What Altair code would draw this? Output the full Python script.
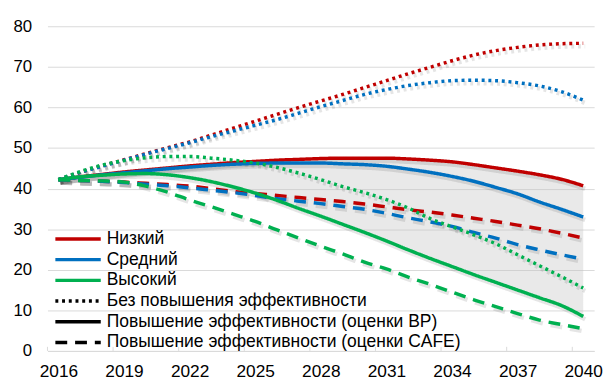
import altair as alt
import pandas as pd

years = list(range(2016, 2041))

scenarios = ["Низкий", "Средний", "Высокий"]
types = [
    "Без повышения эффективности",
    "Повышение эффективности (оценки BP)",
    "Повышение эффективности (оценки CAFE)",
]
colors = ["#c00000", "#0070c0", "#00b050"]

# Низкий
low_none = [42.2, 44.0, 45.6, 47.1, 48.6, 50.1, 51.5, 53.2, 54.9, 56.6, 58.3, 60.0, 61.6,
            63.2, 64.9, 66.6, 68.3, 69.9, 71.5, 72.9, 74.0, 74.8, 75.4, 75.7, 75.8]
low_bp = [42.2, 42.9, 43.5, 44.1, 44.6, 45.1, 45.6, 46.0, 46.4, 46.7, 47.0, 47.2, 47.4,
          47.5, 47.5, 47.5, 47.3, 47.0, 46.6, 45.9, 45.1, 44.3, 43.4, 42.3, 40.7]
low_cafe = [42.2, 42.0, 41.8, 41.6, 41.3, 41.0, 40.6, 40.0, 39.3, 38.8, 38.3, 37.8, 37.3,
            36.8, 36.2, 35.5, 34.8, 34.2, 33.5, 32.7, 31.9, 31.0, 30.1, 29.0, 27.8]
# Средний
mid_none = [42.2, 44.0, 45.5, 47.0, 48.5, 49.9, 51.3, 52.8, 54.2, 55.6, 57.0, 58.6, 60.2,
            61.7, 63.2, 64.4, 65.4, 66.1, 66.6, 66.7, 66.6, 66.1, 65.3, 63.9, 61.8]
mid_bp = [42.2, 42.8, 43.4, 43.9, 44.4, 44.9, 45.3, 45.7, 46.0, 46.2, 46.3, 46.3, 46.3,
          46.1, 45.9, 45.5, 44.8, 44.0, 43.0, 41.8, 40.3, 38.7, 36.7, 34.9, 33.0]
mid_cafe = [42.2, 42.0, 41.8, 41.5, 41.1, 40.7, 40.2, 39.6, 39.0, 38.3, 37.5, 36.9, 36.3,
            35.6, 34.9, 33.9, 32.8, 31.8, 30.7, 29.2, 27.8, 26.2, 24.9, 23.7, 22.6]
# Высокий
high_none = [42.2, 44.2, 45.8, 46.9, 47.6, 47.9, 47.9, 47.5, 47.0, 46.3, 45.2, 43.8, 42.2,
             40.5, 39.0, 37.3, 35.2, 32.6, 30.6, 28.6, 26.4, 23.7, 21.0, 18.3, 15.5]
high_bp = [42.2, 42.9, 43.3, 43.6, 43.7, 43.4, 42.7, 41.7, 40.4, 38.9, 37.1, 35.1, 33.2,
           31.2, 29.2, 27.1, 24.9, 22.8, 20.8, 18.8, 16.9, 15.0, 13.1, 11.2, 8.5]
high_cafe = [42.2, 42.0, 41.9, 41.6, 40.6, 39.1, 37.2, 35.5, 33.7, 31.9, 29.8, 27.8, 25.8,
             23.9, 21.9, 20.2, 18.2, 16.4, 14.5, 12.6, 10.9, 9.2, 7.6, 6.5, 5.5]

x_label_years = list(range(2016, 2041, 3))
y_ticks = list(range(0, 81, 10))
x_tick_marks = [2015.5 + 3 * k for k in range(9)]

series = {
    ("Низкий", types[0]): low_none, ("Низкий", types[1]): low_bp, ("Низкий", types[2]): low_cafe,
    ("Средний", types[0]): mid_none, ("Средний", types[1]): mid_bp, ("Средний", types[2]): mid_cafe,
    ("Высокий", types[0]): high_none, ("Высокий", types[1]): high_bp, ("Высокий", types[2]): high_cafe,
}
rows = []
for (scen, typ), vals in series.items():
    for yr, v in zip(years, vals):
        rows.append({"year": yr, "value": v, "scen": scen, "type": typ, "key": scen + typ})
df = pd.DataFrame(rows)

band = pd.DataFrame({"year": years, "top": low_bp, "bottom": high_bp})
ticks_df = pd.DataFrame({"t": x_tick_marks})

FONT = "Liberation Sans"

x_enc = alt.X("year:Q",
              scale=alt.Scale(domain=[2015.5, 2040.5], nice=False, zero=False),
              axis=alt.Axis(values=x_label_years, format="d", ticks=False, grid=False,
                            domainColor="#d9d9d9", domainWidth=1, labelFontSize=17.5,
                            labelPadding=12, labelColor="#000", title=None,
                            labelFlush=False, labelOverlap=False))
y_enc = alt.Y("value:Q",
              scale=alt.Scale(domain=[0, 80], nice=False),
              axis=alt.Axis(values=y_ticks, domain=False, ticks=False, gridColor="#d9d9d9",
                            gridWidth=1, labelFontSize=17, labelPadding=16,
                            labelColor="#000", title=None))

area = alt.Chart(band).mark_area(color="#bfbfbf", opacity=0.35, interpolate="monotone").encode(
    x=alt.X("year:Q"), y=alt.Y("top:Q"), y2="bottom:Q")

tick_marks = alt.Chart(ticks_df).mark_rule(color="#d9d9d9", strokeWidth=1).encode(
    x="t:Q", y=alt.datum(0), y2=alt.datum(1))

dash_ranges = [[3, 3.8], [1, 0], [12, 8]]
shadows = []
for typ, dsh in zip(types, dash_ranges):
    shadows.append(
        alt.Chart(df[df["type"] == typ]).mark_line(
            color="#000", opacity=0.1, strokeWidth=4.5, interpolate="monotone",
            strokeDash=dsh, xOffset=2, yOffset=3
        ).encode(x="year:Q", y="value:Q", detail="key:N")
    )

legend_common = dict(title=None, orient="none", legendX=6,
                     symbolType="stroke", symbolSize=2116, symbolStrokeWidth=3.5,
                     clipHeight=21, rowPadding=0, labelFontSize=17.7, labelOffset=4,
                     labelColor="#000", padding=0, labelLimit=500)

lines = alt.Chart(df).mark_line(strokeWidth=3.5, interpolate="monotone").encode(
    x=x_enc, y=y_enc,
    color=alt.Color("scen:N", scale=alt.Scale(domain=scenarios, range=colors),
                    legend=alt.Legend(legendY=205, **legend_common)),
    strokeDash=alt.StrokeDash("type:N", scale=alt.Scale(domain=types, range=dash_ranges),
                              legend=alt.Legend(legendY=268, symbolStrokeColor="#000",
                                                **legend_common)),
    order=alt.Order("year:Q"),
)

chart = alt.layer(area, tick_marks, *shadows, lines).properties(
    width=554, height=329,
    autosize=alt.AutoSizeParams(type="none"),
    padding={"left": 40, "top": 16, "right": 10, "bottom": 30},
).configure(font=FONT).configure_view(stroke=None)

chart.save("out.html", embed_options={"renderer": "svg", "actions": False})
